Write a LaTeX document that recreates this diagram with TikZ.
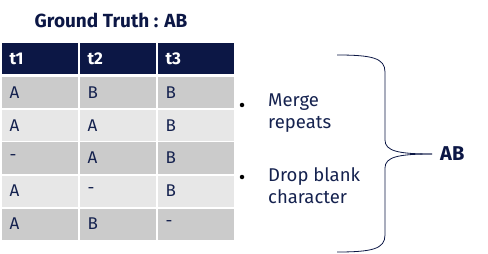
\documentclass[tikz,border=0pt]{standalone}
\usepackage{fontspec}
\setmainfont{Fira Sans}
\usepackage{xcolor}
\definecolor{navy}{HTML}{0C1745}
\definecolor{ink}{HTML}{15224F}
\definecolor{rowdark}{HTML}{CBCBCB}
\definecolor{rowlight}{HTML}{E7E7E7}

\begin{document}
\begin{tikzpicture}[x=1pt,y=-1pt]

		\tikzset{cell/.style = {shape=rectangle,minimum width=76pt,minimum height=31pt,
			text width=60pt,inner xsep=8pt,inner ysep=0pt,align=left,text=ink,font=\fontsize{17}{19}\selectfont}}
		\tikzset{head/.style = {cell,fill=navy,text=white,font=\fontsize{17}{19}\selectfont\bfseries}}
		\tikzset{dark/.style = {cell,fill=rowdark}}
		\tikzset{light/.style = {cell,fill=rowlight}}
		\tikzset{dot/.style = {shape=circle,fill=black,inner sep=0pt,minimum size=4.5pt}}
		\tikzset{note/.style = {align=left,anchor=north west,text=ink,inner sep=0pt,
			font=\fontsize{18.5}{22}\selectfont}}
		\useasboundingbox (0,0) rectangle (488,254);
		\node[text=navy,font=\fontsize{19}{21}\selectfont\bfseries] (title) at (111,20) {Ground Truth : AB};
		%header
		\node[head] (h1) at (39.5,59) {t1};
		\node[head] (h2) at (117.5,59) {t2};
		\node[head] (h3) at (195.5,59) {t3};
		%rows
		\node[dark] (a1) at (39.5,93) {A};
		\node[dark] (a2) at (117.5,93) {B};
		\node[dark] (a3) at (195.5,93) {B};
		\node[light] (b1) at (39.5,125.5) {A};
		\node[light] (b2) at (117.5,125.5) {A};
		\node[light] (b3) at (195.5,125.5) {B};
		\node[dark] (c1) at (39.5,158) {-};
		\node[dark] (c2) at (117.5,158) {A};
		\node[dark] (c3) at (195.5,158) {B};
		\node[light] (d1) at (39.5,191) {A};
		\node[light] (d2) at (117.5,191) {-};
		\node[light] (d3) at (195.5,191) {B};
		\node[dark] (e1) at (39.5,224) {A};
		\node[dark] (e2) at (117.5,224) {B};
		\node[dark] (e3) at (195.5,224) {-};
		%rules
		\node[dot] (p1) at (242,105) {};
		\node[dot] (p2) at (242,177) {};
		\node[note] (merge) at (268,94) {Merge\\repeats};
		\node[note] (drop) at (268,167) {Drop blank\\character};
		%brace
		\coordinate (top) at (337,55);
		\coordinate (tip) at (432,154);
		\coordinate (bot) at (337,252);
		\node[anchor=west,text=navy,font=\fontsize{20}{22}\selectfont\bfseries,inner sep=0pt] (ab) at (440,154) {AB};
		\draw[navy,line width=0.8pt] (top) .. controls (372,55) and (385,58) .. (385,72) -- (385,140)
			.. controls (385,151) and (398,154) .. (tip);
		\draw[navy,line width=0.8pt] (bot) .. controls (372,252) and (385,249) .. (385,235) -- (385,168)
			.. controls (385,157) and (398,154) .. (tip);
		\end{tikzpicture}
\end{document}
